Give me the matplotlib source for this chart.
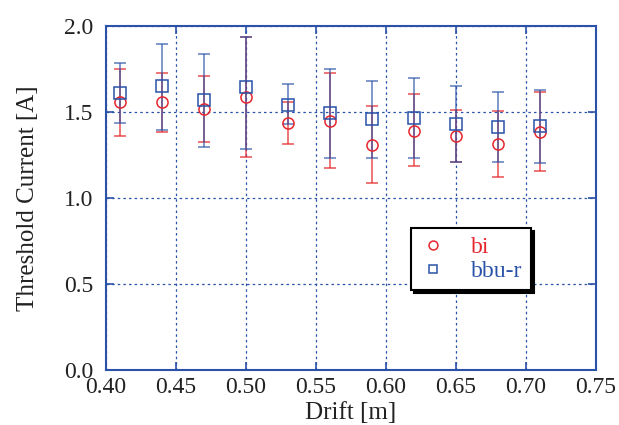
import matplotlib
matplotlib.use("Agg")
import matplotlib.pyplot as plt
import numpy as np

drift = [0.41, 0.44, 0.47, 0.50, 0.53, 0.56, 0.59, 0.62, 0.65, 0.68, 0.71]

bi_val = [1.556, 1.558, 1.517, 1.587, 1.438, 1.450, 1.310, 1.393, 1.361, 1.314, 1.384]
bi_top = [1.750, 1.727, 1.707, 1.936, 1.560, 1.725, 1.535, 1.603, 1.513, 1.504, 1.614]
bi_bot = [1.362, 1.384, 1.326, 1.240, 1.316, 1.175, 1.087, 1.184, 1.211, 1.122, 1.159]

bbu_val = [1.612, 1.649, 1.570, 1.643, 1.542, 1.492, 1.459, 1.467, 1.432, 1.413, 1.420]
bbu_top = [1.788, 1.893, 1.839, 1.936, 1.661, 1.750, 1.682, 1.696, 1.649, 1.614, 1.626]
bbu_bot = [1.434, 1.397, 1.298, 1.285, 1.428, 1.233, 1.233, 1.236, 1.209, 1.211, 1.207]

xticks = [0.40, 0.45, 0.50, 0.55, 0.60, 0.65, 0.70, 0.75]
yticks = [0.0, 0.5, 1.0, 1.5, 2.0]

RED = "#e5262c"
BLUE = "#2a52a8"

plt.rcParams['font.family'] = ['Liberation Serif', 'DejaVu Serif']

fig = plt.figure(figsize=(6.19, 4.25), dpi=100)
ax = fig.add_axes([0.1708, 0.1287, 0.7916, 0.8101])

bi_v = np.array(bi_val); bbu_v = np.array(bbu_val)
bi_err = [bi_v - np.array(bi_bot), np.array(bi_top) - bi_v]
bbu_err = [bbu_v - np.array(bbu_bot), np.array(bbu_top) - bbu_v]

ax.errorbar(drift, bi_val, yerr=bi_err, fmt='none', ecolor=RED,
            elinewidth=1.2, capsize=4, capthick=1.2, alpha=0.75, zorder=3)
ax.errorbar(drift, bbu_val, yerr=bbu_err, fmt='none', ecolor=BLUE,
            elinewidth=1.2, capsize=4, capthick=1.2, alpha=0.7, zorder=3)
ax.plot(drift, bi_val, 'o', mfc='none', mec=RED, ms=8, mew=1.1, zorder=4, label='bi')
ax.plot(drift, bbu_val, 's', mfc='none', mec=BLUE, ms=8, mew=1.1, zorder=4, label='bbu-r')

ax.set_xlim(0.40, 0.75)
ax.set_ylim(0.0, 2.0)
ax.set_xticks(xticks)
ax.set_yticks(yticks)
ax.set_xticklabels([f"{t:.2f}" for t in xticks])
ax.set_yticklabels([f"{t:.1f}" for t in yticks])
ax.grid(True, color=BLUE, linestyle=(0, (2, 2.5)), linewidth=0.9)
ax.set_axisbelow(True)
for s in ax.spines.values():
    s.set_color(BLUE)
    s.set_linewidth(1.5)
ax.tick_params(direction='in', length=6, color=BLUE, width=1.2, top=True, right=True,
               labelsize=17, labelcolor='#222222')
ax.tick_params(axis='y', pad=9)
ax.tick_params(axis='x', pad=5)

ax.set_xlabel("Drift [m]", fontsize=18, color='#222222', labelpad=3)
ax.set_ylabel("Threshold Current [A]", fontsize=18, color='#222222', labelpad=18)

leg = ax.legend(loc='upper left', bbox_to_anchor=(0.623, 0.413), fontsize=17,
                frameon=True, fancybox=False, shadow={'color': 'black', 'alpha': 1.0},
                edgecolor='black', handlelength=1.2, handletextpad=1.0,
                borderpad=0.35, labelspacing=0.1, markerscale=0.8, borderaxespad=0)
leg.get_frame().set_linewidth(1.5)
leg.texts[0].set_color(RED)
leg.texts[1].set_color(BLUE)

fig.savefig("out.png", dpi=100)
